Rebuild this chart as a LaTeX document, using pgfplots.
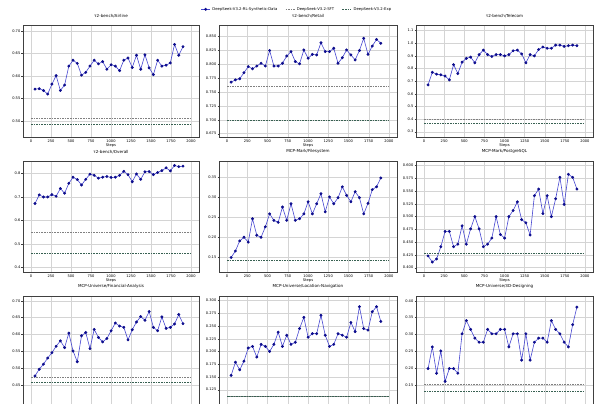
\documentclass[border=0pt]{standalone}
\usepackage{fontspec}
\setmainfont{DejaVu Sans}
\usepackage{pgfplots}
\usepackage{pgfplotstable}
\pgfplotsset{compat=1.18}
\definecolor{lineblue}{rgb}{0.28,0.28,0.82}
\definecolor{markblue}{rgb}{0.05,0.05,0.55}
\definecolor{sftcol}{rgb}{0.5,0.5,0.5}
\definecolor{expcol}{rgb}{0.22,0.38,0.32}

\pgfplotstableread{
x air ret tel ovr fs pg fin loc des
50 0.571 0.768 0.67 0.671 0.150 0.423 0.477 0.153 0.199
102.86 0.572 0.772 0.77 0.708 0.166 0.411 0.497 0.179 0.263
155.71 0.568 0.774 0.755 0.699 0.191 0.417 0.512 0.164 0.185
208.57 0.560 0.785 0.75 0.699 0.200 0.441 0.530 0.181 0.251
261.43 0.582 0.796 0.74 0.709 0.188 0.471 0.546 0.207 0.161
314.29 0.601 0.792 0.71 0.702 0.246 0.471 0.565 0.210 0.199
367.14 0.568 0.797 0.83 0.735 0.205 0.441 0.581 0.189 0.199
420 0.580 0.802 0.76 0.715 0.200 0.446 0.561 0.214 0.185
472.86 0.622 0.797 0.85 0.757 0.226 0.482 0.604 0.210 0.302
525.71 0.635 0.825 0.88 0.783 0.258 0.446 0.551 0.200 0.341
578.57 0.628 0.797 0.89 0.773 0.242 0.476 0.519 0.214 0.315
631.43 0.602 0.797 0.845 0.750 0.237 0.500 0.596 0.238 0.289
684.29 0.608 0.802 0.91 0.774 0.275 0.476 0.606 0.210 0.277
737.14 0.622 0.815 0.945 0.796 0.242 0.441 0.558 0.232 0.277
790 0.635 0.823 0.91 0.791 0.283 0.446 0.615 0.214 0.315
842.86 0.627 0.805 0.895 0.779 0.242 0.458 0.591 0.218 0.302
895.71 0.632 0.801 0.91 0.783 0.246 0.500 0.578 0.245 0.302
948.57 0.615 0.826 0.91 0.786 0.258 0.465 0.588 0.267 0.315
1001.43 0.625 0.811 0.90 0.782 0.288 0.458 0.611 0.228 0.315
1054.29 0.622 0.818 0.91 0.783 0.258 0.500 0.634 0.235 0.263
1107.14 0.612 0.817 0.94 0.791 0.283 0.512 0.625 0.235 0.302
1160 0.635 0.839 0.945 0.808 0.308 0.529 0.621 0.271 0.302
1212.86 0.640 0.823 0.915 0.794 0.263 0.494 0.584 0.232 0.224
1265.71 0.619 0.823 0.845 0.764 0.300 0.488 0.614 0.210 0.302
1318.57 0.646 0.829 0.91 0.797 0.283 0.464 0.637 0.214 0.224
1371.43 0.615 0.802 0.90 0.774 0.298 0.541 0.653 0.235 0.277
1424.29 0.647 0.812 0.95 0.806 0.325 0.554 0.642 0.232 0.289
1477.14 0.618 0.826 0.97 0.807 0.304 0.506 0.668 0.228 0.289
1530 0.603 0.817 0.96 0.794 0.288 0.541 0.621 0.257 0.277
1582.86 0.635 0.808 0.96 0.803 0.313 0.500 0.611 0.239 0.341
1635.71 0.622 0.825 0.985 0.811 0.298 0.535 0.652 0.288 0.315
1688.57 0.624 0.847 0.985 0.823 0.258 0.577 0.618 0.245 0.302
1741.43 0.629 0.818 0.975 0.810 0.284 0.524 0.621 0.242 0.277
1794.29 0.670 0.833 0.98 0.833 0.318 0.583 0.631 0.278 0.263
1847.14 0.646 0.845 0.985 0.828 0.325 0.577 0.659 0.288 0.329
1900 0.665 0.838 0.98 0.830 0.347 0.554 0.632 0.259 0.381
}\data

\pgfplotsset{
  sub/.style={
    scale only axis, anchor=south west,
    xmin=-100, xmax=2100, xtick={0,250,...,2000},
    grid=major, grid style={black!17, line width=0.35pt},
    axis line style={black!75, line width=0.4pt},
    tick style={black!75, line width=0.3pt}, major tick length=1.5pt,
    tick align=outside, tick pos=left,
    tick label style={font=\fontsize{3.6}{4}\selectfont},
    xticklabel style={inner sep=1pt}, yticklabel style={inner sep=1pt},
    /pgf/number format/1000 sep={}, /pgf/number format/assume math mode=true,
    title style={font=\fontsize{4.1}{4.5}\selectfont, inner sep=1.2pt},
    xlabel={Steps}, xlabel style={font=\fontsize{3.7}{4}\selectfont, inner sep=0.5pt},
    legend image code/.code={\draw[mark repeat=2,mark phase=2,##1] plot coordinates {(0pt,0pt) (4.5pt,0pt) (9pt,0pt)};},
  },
  bottomrow/.style={xticklabels={}, xlabel={}},
  prec/.style={yticklabel style={/pgf/number format/.cd, fixed, fixed zerofill, precision=#1}},
  rl/.style={color=lineblue, line width=0.6pt, mark=*, mark size=1.15pt, mark options={fill=markblue, draw=markblue, solid}},
  sft/.style={sftcol, line width=0.5pt, dash pattern=on 1.6pt off 1pt},
  exp/.style={expcol, line width=0.5pt, dash pattern=on 1.6pt off 1pt},
}

\begin{document}
\begin{tikzpicture}
\path[use as bounding box] (0pt,0pt) rectangle (600pt,404pt);
% Row 1
\begin{axis}[sub, at={(23pt,267pt)}, width=176pt, height=112pt,
  title={τ2-bench/Airline}, ymin=0.465, ymax=0.713, ytick={0.50,0.55,...,0.71}, prec=2,
  legend columns=3, legend cell align=left,
  legend style={at={(1.557,1.14)}, anchor=center, draw=none, fill=none,
    font=\fontsize{3.8}{4.5}\selectfont, inner sep=1pt,
    /tikz/every even column/.append style={column sep=6pt}}]
\addplot[rl] table[x=x,y=air] {\data};
\addplot[sft] coordinates {(0,0.506) (2000,0.506)};
\addplot[exp] coordinates {(0,0.493) (2000,0.493)};
\legend{DeepSeek-V3.2-RL-Synthetic-Data, DeepSeek-V3.2-SFT, DeepSeek-V3.2-Exp}
\end{axis}
\begin{axis}[sub, at={(219pt,267pt)}, width=178pt, height=112pt,
  title={τ2-bench/Retail}, ymin=0.669, ymax=0.871, ytick={0.675,0.700,...,0.851}, prec=3]
\addplot[rl] table[x=x,y=ret] {\data};
\addplot[sft] coordinates {(0,0.760) (2000,0.760)};
\addplot[exp] coordinates {(0,0.700) (2000,0.700)};
\end{axis}
\begin{axis}[sub, at={(416pt,267pt)}, width=177pt, height=112pt,
  title={τ2-bench/Telecom}, ymin=0.258, ymax=1.144, ytick={0.3,0.4,...,1.11}, prec=1]
\addplot[rl] table[x=x,y=tel] {\data};
\addplot[sft] coordinates {(0,0.396) (2000,0.396)};
\addplot[exp] coordinates {(0,0.364) (2000,0.364)};
\end{axis}
% Row 2
\begin{axis}[sub, at={(23pt,132pt)}, width=176pt, height=111pt,
  title={τ2-bench/Overall}, ymin=0.380, ymax=0.852, ytick={0.4,0.5,...,0.81}, prec=1]
\addplot[rl] table[x=x,y=ovr] {\data};
\addplot[sft] coordinates {(0,0.549) (2000,0.549)};
\addplot[exp] coordinates {(0,0.458) (2000,0.458)};
\end{axis}
\begin{axis}[sub, at={(219pt,132pt)}, width=178pt, height=111pt,
  title={MCP-Mark/Filesystem}, ymin=0.114, ymax=0.389, ytick={0.15,0.20,...,0.351}, prec=2]
\addplot[rl] table[x=x,y=fs] {\data};
\addplot[sft] coordinates {(0,0.143) (2000,0.143)};
\addplot[exp] coordinates {(0,0.142) (2000,0.142)};
\end{axis}
\begin{axis}[sub, at={(416pt,132pt)}, width=177pt, height=111pt,
  title={MCP-Mark/PostgreSQL}, ymin=0.3915, ymax=0.609, ytick={0.400,0.425,...,0.601}, prec=3]
\addplot[rl] table[x=x,y=pg] {\data};
\addplot[sft] coordinates {(0,0.429) (2000,0.429)};
\addplot[exp] coordinates {(0,0.428) (2000,0.428)};
\end{axis}
% Row 3 (cut off at the bottom edge, as in the reference)
\begin{axis}[sub, bottomrow, at={(23pt,-3pt)}, width=176pt, height=111pt,
  title={MCP-Universe/Financial-Analysis}, ymin=0.385, ymax=0.714, ytick={0.45,0.50,...,0.701}, prec=2]
\addplot[rl] table[x=x,y=fin] {\data};
\addplot[sft] coordinates {(0,0.473) (2000,0.473)};
\addplot[exp] coordinates {(0,0.458) (2000,0.458)};
\end{axis}
\begin{axis}[sub, bottomrow, at={(219pt,-3pt)}, width=178pt, height=111pt,
  title={MCP-Universe/Location-Navigation}, ymin=0.091, ymax=0.309, ytick={0.125,0.150,...,0.301}, prec=3]
\addplot[rl] table[x=x,y=loc] {\data};
\addplot[sft] coordinates {(0,0.112) (2000,0.112)};
\addplot[exp, dash phase=1.3pt] coordinates {(0,0.112) (2000,0.112)};
\end{axis}
\begin{axis}[sub, bottomrow, at={(416pt,-3pt)}, width=177pt, height=111pt,
  title={MCP-Universe/3D-Designing}, ymin=0.085, ymax=0.414, ytick={0.15,0.20,...,0.401}, prec=2]
\addplot[rl] table[x=x,y=des] {\data};
\addplot[sft] coordinates {(0,0.151) (2000,0.151)};
\addplot[exp] coordinates {(0,0.133) (2000,0.133)};
\end{axis}
\end{tikzpicture}
\end{document}
